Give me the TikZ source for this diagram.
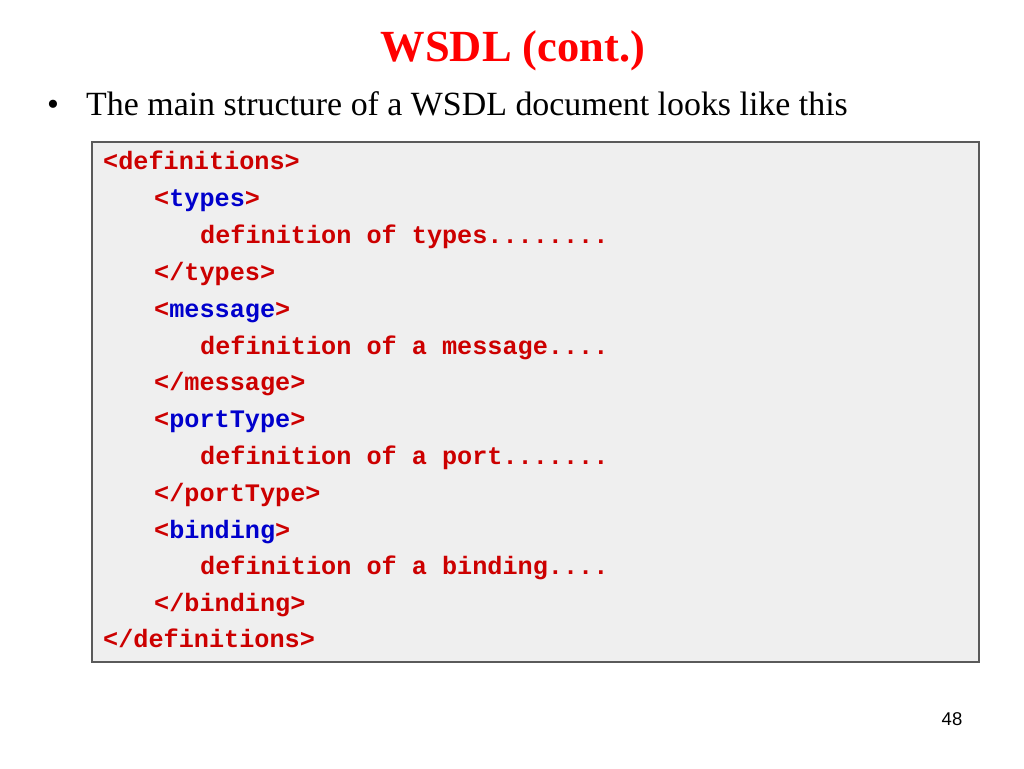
\documentclass[tikz,border=0pt]{standalone}
\usepackage{fontspec}
\setmainfont{Liberation Serif}
\newfontfamily\codefont{Liberation Mono}
\newfontfamily\numfont{Liberation Sans}
\definecolor{titlered}{RGB}{255,0,0}
\definecolor{codered}{RGB}{204,0,0}
\definecolor{codeblue}{RGB}{0,0,204}
\definecolor{boxfill}{RGB}{239,239,239}
\definecolor{boxline}{RGB}{90,90,90}
\tikzset{
  codeline/.style={anchor=base west, inner sep=0pt, font=\codefont\bfseries\fontsize{25.2}{30}\selectfont, text=codered}
}
\newcommand{\tg}[1]{\textcolor{codeblue}{#1}}
\begin{document}
\begin{tikzpicture}[x=1pt,y=-1pt]
\useasboundingbox (0,0) rectangle (1024,768);
\node[anchor=base, inner sep=0pt, font=\bfseries\fontsize{44.5}{50}\selectfont, text=titlered] (title) at (513,61) {WSDL (cont.)};
\node[anchor=base, inner sep=0pt, font=\fontsize{33.9}{38}\selectfont] (bullet) at (53,115) {\textbullet};
\node[anchor=base west, inner sep=0pt, font=\fontsize{33.9}{38}\selectfont] (intro) at (86,115) {The main structure of a WSDL document looks like this};
\draw[draw=boxline, fill=boxfill, line width=1.2pt] (92,142) rectangle (979,662);
\node[codeline] (l1) at (103,169) {<definitions>};
\node[codeline] (l2) at (154,206) {<\tg{types}>};
\node[codeline] (l3) at (200,243) {definition of types........};
\node[codeline] (l4) at (154,280) {</types>};
\node[codeline] (l5) at (154,317) {<\tg{message}>};
\node[codeline] (l6) at (200,354) {definition of a message....};
\node[codeline] (l7) at (154,390) {</message>};
\node[codeline] (l8) at (154,427) {<\tg{portType}>};
\node[codeline] (l9) at (200,464) {definition of a port.......};
\node[codeline] (l10) at (154,501) {</portType>};
\node[codeline] (l11) at (154,538) {<\tg{binding}>};
\node[codeline] (l12) at (200,574) {definition of a binding....};
\node[codeline] (l13) at (154,611) {</binding>};
\node[codeline] (l14) at (103,647) {</definitions>};
\node[anchor=base, inner sep=0pt, font=\numfont\fontsize{18.5}{22}\selectfont] (page) at (952,725) {48};
\end{tikzpicture}
\end{document}
